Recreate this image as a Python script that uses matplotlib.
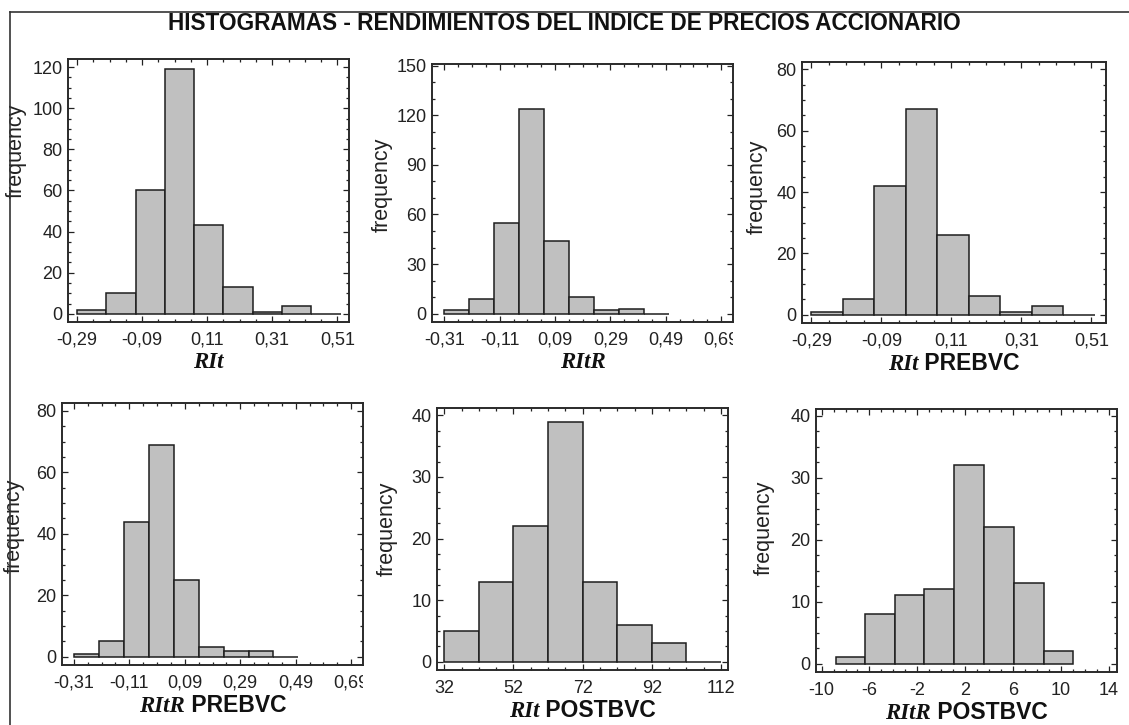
import matplotlib
matplotlib.use("Agg")
import matplotlib.pyplot as plt
from matplotlib.ticker import AutoMinorLocator
from matplotlib.offsetbox import TextArea, HPacker, AnnotationBbox
from matplotlib.transforms import Bbox, TransformedBbox
from matplotlib.lines import Line2D

plt.rcParams['font.family'] = ['Liberation Sans', 'DejaVu Sans']

# bin edges / counts
rit_edges = [-0.29, -0.20, -0.11, -0.02, 0.07, 0.16, 0.25, 0.34, 0.43, 0.52]
rit_counts = [2, 10, 60, 119, 43, 13, 1, 4, 0]
ritr_edges = [-0.31, -0.22, -0.13, -0.04, 0.05, 0.14, 0.23, 0.32, 0.41, 0.50]
ritr_counts = [2, 9, 55, 124, 44, 10, 2, 3, 0]
rit_pre_counts = [1, 5, 42, 67, 26, 6, 1, 3, 0]
ritr_pre_counts = [1, 5, 44, 69, 25, 3, 2, 2, 0]
rit_post_edges = [32, 42, 52, 62, 72, 82, 92, 102, 112]
rit_post_counts = [5, 13, 22, 39, 13, 6, 3, 0]
ritr_post_edges = [-8.80, -6.34, -3.86, -1.40, 1.05, 3.54, 6.08, 8.56, 11.02]
ritr_post_counts = [1, 8, 11, 12, 32, 22, 13, 2]

xt_rit = [-0.29, -0.09, 0.11, 0.31, 0.51]
xt_ritr = [-0.31, -0.11, 0.09, 0.29, 0.49, 0.69]
xt_post = [32, 52, 72, 92, 112]
xt_postr = [-10, -6, -2, 2, 6, 10, 14]
xl_rit = ["-0,29", "-0,09", "0,11", "0,31", "0,51"]
xl_ritr = ["-0,31", "-0,11", "0,09", "0,29", "0,49", "0,69"]
xl_post = ["32", "52", "72", "92", "112"]
xl_postr = ["-10", "-6", "-2", "2", "6", "10", "14"]

yt_120 = [0, 20, 40, 60, 80, 100, 120]
yt_150 = [0, 30, 60, 90, 120, 150]
yt_80 = [0, 20, 40, 60, 80]
yt_40 = [0, 10, 20, 30, 40]

W, H = 1129, 725
fig = plt.figure(figsize=(W / 100, H / 100), dpi=100)

fig.text(0.5, 1 - 23 / H, "HISTOGRAMAS - RENDIMIENTOS DEL INDICE DE PRECIOS ACCIONARIO",
         ha="center", va="center", fontsize=16.3, fontweight="bold", color="#111111")

# outer frame
fig.add_artist(Line2D([10 / W, 10 / W], [0, 1 - 12 / H], transform=fig.transFigure, color="#333333", lw=1.2))
fig.add_artist(Line2D([10 / W, 1], [1 - 12 / H, 1 - 12 / H], transform=fig.transFigure, color="#333333", lw=1.2))

panels = [
    # px box, edges, counts, xticks, xlabels, xlim, yticks, ylim, yminor, name, suffix, ylabel pos, clip last
    ((68, 59, 349, 322), rit_edges, rit_counts, xt_rit, xl_rit, (-0.318, 0.546), yt_120, (-4, 124), 4, "RIt", "", (-0.146, 0.65), False),
    ((432, 64, 733, 322), ritr_edges, ritr_counts, xt_ritr, xl_ritr, (-0.355, 0.733), yt_150, (-5, 151), 3, "RItR", "", (-0.130, 0.53), True),
    ((802, 62, 1106, 323), rit_edges, rit_pre_counts, xt_rit, xl_rit, (-0.317, 0.552), yt_80, (-2.7, 82.4), 4, "RIt", " PREBVC", (-0.112, 0.52), False),
    ((62, 403, 363, 665), ritr_edges, ritr_pre_counts, xt_ritr, xl_ritr, (-0.353, 0.733), yt_80, (-2.7, 82.6), 4, "RItR", " PREBVC", (-0.123, 0.53), True),
    ((437, 408, 728, 670), rit_post_edges, rit_post_counts, xt_post, xl_post, (29.9, 114.0), yt_40, (-1.35, 41.2), 4, "RIt", " POSTBVC", (-0.134, 0.54), False),
    ((816, 409, 1117, 672), ritr_post_edges, ritr_post_counts, xt_postr, xl_postr, (-10.47, 14.7), yt_40, (-1.35, 41.1), 4, "RItR", " POSTBVC", (-0.136, 0.55), False),
]

for box, edges, counts, xt, xl, xlim, yt, ylim, ymin, name, suffix, ylpos, clip in panels:
    x0, y0, x1, y1 = box
    ax = fig.add_axes([x0 / W, 1 - y1 / H, (x1 - x0) / W, (y1 - y0) / H])
    widths = [edges[i + 1] - edges[i] for i in range(len(counts))]
    ax.bar(edges[:-1], counts, width=widths, align="edge",
           color="#c0c0c0", edgecolor="#1e1e1e", linewidth=1.1)
    ax.set_xlim(*xlim)
    ax.set_ylim(*ylim)
    ax.set_xticks(xt)
    ax.set_xticklabels(xl)
    ax.set_yticks(yt)
    ax.xaxis.set_minor_locator(AutoMinorLocator(4))
    ax.yaxis.set_minor_locator(AutoMinorLocator(ymin))
    ax.tick_params(which="both", direction="in", top=True, right=True, colors="#222222")
    ax.tick_params(which="major", length=4, width=0.9, labelsize=13)
    ax.tick_params(which="minor", length=2.2, width=0.9)
    ax.tick_params(axis="x", which="major", pad=7)
    ax.tick_params(axis="y", which="major", pad=4)
    for s in ax.spines.values():
        s.set_color("#2a2a2a")
        s.set_linewidth(1.4)
    ax.set_ylabel("frequency", fontsize=15.5, color="#222222")
    ax.yaxis.set_label_coords(*ylpos)
    if clip:
        lab = ax.get_xticklabels()[-1]
        lab.set_clip_on(True)
        lab.set_clip_box(TransformedBbox(Bbox([[-1, -1], [1, 0]]), ax.transAxes))

    t1 = TextArea(name, textprops=dict(family="Liberation Serif", fontweight="bold",
                                       fontstyle="italic", fontsize=16.5, color="#111111"))
    parts = [t1]
    if suffix:
        parts.append(TextArea(suffix, textprops=dict(family="Liberation Sans", fontweight="bold",
                                                     fontsize=16.5, color="#111111")))
    pk = HPacker(children=parts, align="baseline", pad=0, sep=0)
    ab = AnnotationBbox(pk, (0.5, 0), xycoords="axes fraction", xybox=(0, -29),
                        boxcoords="offset points", frameon=False, box_alignment=(0.5, 0.5),
                        annotation_clip=False)
    ax.add_artist(ab)

fig.savefig("out.png", dpi=100, facecolor="white")
